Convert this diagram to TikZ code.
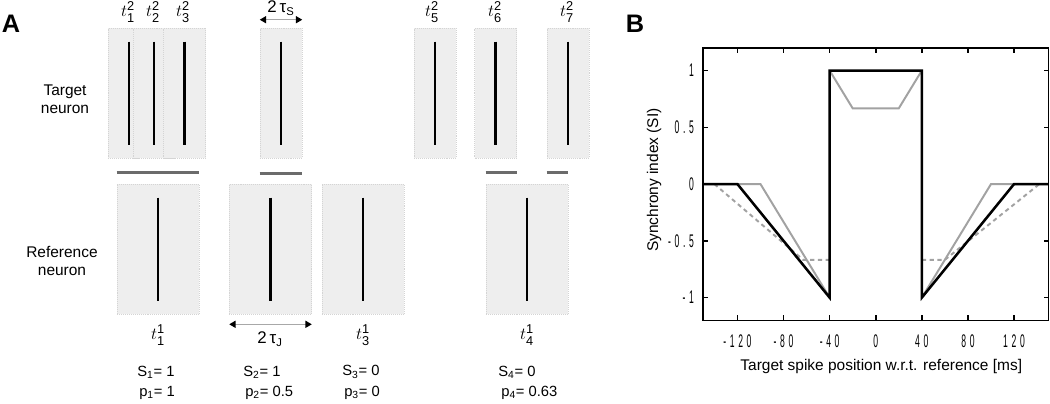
\documentclass[tikz,border=0pt]{standalone}
\usepackage{amsmath}
\usepackage{fontspec}
\setmainfont{Liberation Sans}
\newfontfamily\tickfont[FakeStretch=0.47,LetterSpace=20]{Liberation Sans}
\usetikzlibrary{arrows.meta,positioning,calc}
\definecolor{WinFill}{HTML}{EEEEEE}
\definecolor{WinEdge}{HTML}{D4D4D4}
\definecolor{Overlap}{HTML}{6B6B6B}
\definecolor{SpanLine}{HTML}{A8A8A8}
\definecolor{CurveGray}{HTML}{A2A2A2}
\tikzset{
  targetwin/.style={rectangle,inner sep=0pt,fill=WinFill,draw=WinEdge,densely dotted,line width=0.4pt,minimum width=1.05cm,minimum height=3.25cm},
  refwin/.style={targetwin,minimum width=2.05cm},
  spike/.style={black,line width=2pt},
  overlap/.style={Overlap,line width=2.1pt},
  span/.style={SpanLine,line width=0.8pt,{Triangle[black,length=4.5pt,width=5pt]}-{Triangle[black,length=4.5pt,width=5pt]}},
  neuron/.style={align=center,font=\fontsize{11}{12.5}\selectfont},
  spikelbl/.style={inner sep=0pt,font=\fontsize{13}{15}\selectfont},
  spanlbl/.style={inner sep=0pt,font=\fontsize{12}{14}\selectfont},
  score/.style={anchor=west,inner sep=0pt,font=\fontsize{10.5}{12}\selectfont},
  panel/.style={inner sep=0pt,font=\fontsize{18}{20}\selectfont\bfseries},
  ticklbl/.style={inner sep=0pt,font=\tickfont\fontsize{13}{14}\selectfont},
  axistitle/.style={inner sep=0pt,font=\fontsize{11}{13}\selectfont},
  frame/.style={black,line width=1.1pt},
  sicurve/.style={black,line width=1.8pt},
  jitcurve/.style={CurveGray,line width=1.4pt},
  probcurve/.style={CurveGray,line width=1.4pt,dash pattern=on 3pt off 2.5pt}
}
\begin{document}
\begin{tikzpicture}[x=0.025cm,y=-0.025cm]
\useasboundingbox (0,0) rectangle (1050,403);
\node[panel] (pa) at (11,24) {A};
\node[panel] (pb) at (635,24) {B};
\node[neuron] (tgt) at (65,99) {Target\\neuron};
\node[neuron] (ref) at (62,261) {Reference\\neuron};
\node[targetwin] (w1) at (129,93) {};
\node[targetwin] (w2) at (154,93) {};
\node[targetwin] (w3) at (184.5,93) {};
\node[targetwin] (w4) at (281,93) {};
\node[targetwin] (w5) at (435,93) {};
\node[targetwin] (w6) at (495.5,93) {};
\node[targetwin] (w7) at (568,93) {};
\node[refwin] (r1) at (158,249) {};
\node[refwin] (r2) at (270.5,249) {};
\node[refwin] (r3) at (363,249) {};
\node[refwin] (r4) at (527,249) {};
\foreach \w in {w1,w2,w3,w4,w5,w6,w7,r1,r2,r3,r4}
  \draw[spike] ($(\w.north)+(0,14)$) -- ($(\w.south)+(0,-13)$);
\draw[overlap] ($(r1.north west)+(0,-11)$) -- ($(r1.north east)+(0,-11)$);
\draw[overlap] ($(w4.south west)+(0,15)$) -- ($(w4.south east)+(0,15)$);
\draw[overlap] ($(r4.north west)+(0,-11)$) -- ($(w6.south east |- r4.north)+(0,-11)$);
\draw[overlap] ($(w7.south west |- r4.north)+(0,-11)$) -- ($(r4.north east)+(0,-11)$);
\node[spikelbl] (lt1) at (128,12) {$t^{\text{2}}_{\text{1}}$};
\node[spikelbl] (lt2) at (153,12) {$t^{\text{2}}_{\text{2}}$};
\node[spikelbl] (lt3) at (183,12) {$t^{\text{2}}_{\text{3}}$};
\node[spikelbl] (lt5) at (432,12) {$t^{\text{2}}_{\text{5}}$};
\node[spikelbl] (lt6) at (495,12) {$t^{\text{2}}_{\text{6}}$};
\node[spikelbl] (lt7) at (567,12) {$t^{\text{2}}_{\text{7}}$};
\node[spanlbl] (taus) at (281,8) {2\,τ\textsubscript{S}};
\draw[span] ($(w4.north west)+(0,-8)$) -- ($(w4.north east)+(0,-8)$);
\node[spikelbl] (lr1) at (158,335) {$t^{\text{1}}_{\text{1}}$};
\node[spikelbl] (lr3) at (363,335) {$t^{\text{1}}_{\text{3}}$};
\node[spikelbl] (lr4) at (527,335) {$t^{\text{1}}_{\text{4}}$};
\draw[span] ($(r2.south west)+(0,10)$) -- ($(r2.south east)+(0,10)$);
\node[spanlbl] (tauj) at (270,339) {2\,τ\textsubscript{J}};
\node[score] (s1) at (137,372) {S\textsubscript{1}= 1};
\node[score] (p1) at (139,393) {p\textsubscript{1}= 1};
\node[score] (s2) at (243,372) {S\textsubscript{2}= 1};
\node[score] (p2) at (245,393) {p\textsubscript{2}= 0.5};
\node[score] (s3) at (342,372) {S\textsubscript{3}= 0};
\node[score] (p3) at (344,393) {p\textsubscript{3}= 0};
\node[score] (s4) at (498,372) {S\textsubscript{4}= 0};
\node[score] (p4) at (501,393) {p\textsubscript{4}= 0.63};
\begin{scope}[shift={(21.8875cm,-4.6cm)},x=0.0288125cm,y=2.8375cm]
\draw[probcurve] (-140,0) -- (-63,-0.667) -- (-40,-0.667);
\draw[probcurve] (40,-0.667) -- (60,-0.667) -- (142,0);
\draw[jitcurve] (-150,0) -- (-100,0) -- (-40,-1);
\draw[jitcurve] (40,-1) -- (100,0) -- (150,0);
\draw[jitcurve] (-40,1) -- (-20,0.667) -- (20,0.667) -- (40,1);
\draw[sicurve] (-150,0) -- (-120,0) -- (-40,-1) -- (-40,1) -- (40,1) -- (40,-1) -- (120,0) -- (150,0);
\draw[frame] (-150,-1.2) rectangle (150,1.2);
\foreach \t in {-120,-80,...,120} {
  \draw[frame] (\t,-1.2) -- ++(0,0.044);
  \draw[frame] (\t,1.2) -- ++(0,-0.044);
  \node[ticklbl] (xt\t) at (\t,-1.383) {\t};
}
\foreach \v in {-1,-0.5,0,0.5,1} {
  \draw[frame] (-150,\v) -- ++(4.3,0);
  \draw[frame] (150,\v) -- ++(-4.3,0);
  \node[ticklbl,anchor=east] (yt\v) at (-157.5,\v) {\v};
}
\node[axistitle] (xlab) at (4.8,-1.604) {Target spike position w.r.t. reference [ms]};
\node[axistitle,rotate=90] (ylab) at (-192.3,0.035) {Synchrony index (SI)};
\end{scope}
\end{tikzpicture}
\end{document}
